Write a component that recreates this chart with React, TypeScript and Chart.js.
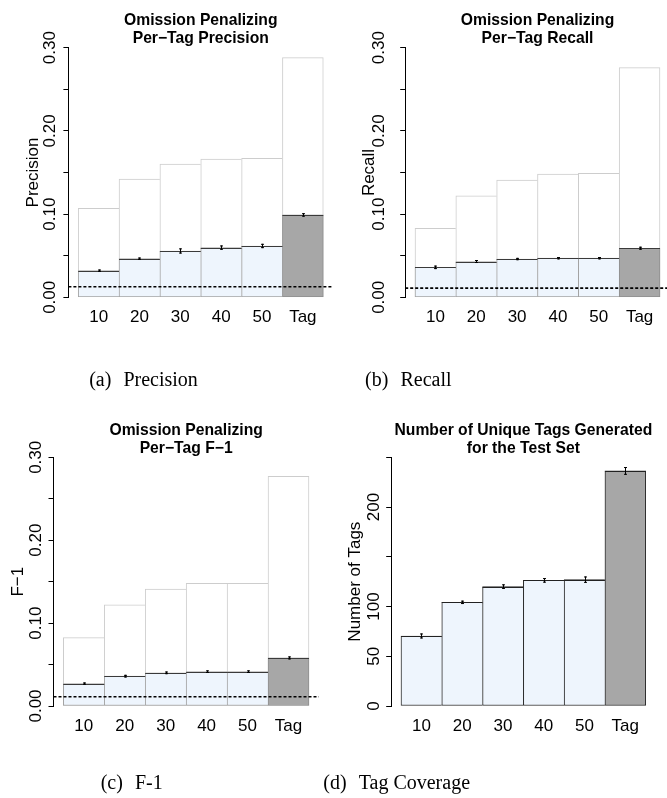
import React, { useEffect, useRef } from 'react';
import { Chart, registerables } from 'chart.js';

Chart.register(...registerables);

// Bar categories (number of generated tags, plus the "Tag" reference method)
const categories = ['10', '20', '30', '40', '50', 'Tag'];
const barCenters = [0.5, 1.5, 2.5, 3.5, 4.5, 5.5];

// Per-tag precision: upper (unpenalized) bars, penalized means, error half-widths
const precisionUpper = [0.107, 0.142, 0.16, 0.166, 0.167, 0.288];
const precisionMean = [0.032, 0.0464, 0.0557, 0.0597, 0.0617, 0.099];
const precisionErr = [0.0008, 0.0008, 0.0025, 0.002, 0.002, 0.0015];
const precisionBaseline = 0.0127;

// Per-tag recall
const recallUpper = [0.083, 0.122, 0.141, 0.148, 0.149, 0.276];
const recallMean = [0.036, 0.043, 0.046, 0.047, 0.047, 0.059];
const recallErr = [0.0015, 0.0012, 0.0008, 0.0008, 0.0008, 0.0012];
const recallBaseline = 0.011;

// Per-tag F-1
const f1Upper = [0.0824, 0.122, 0.141, 0.148, 0.148, 0.277];
const f1Mean = [0.027, 0.036, 0.04, 0.0414, 0.0414, 0.058];
const f1Err = [0.0008, 0.001, 0.001, 0.001, 0.001, 0.0012];
const f1Baseline = 0.0112;

// Number of unique tags generated for the test set
const coverageMean = [70.4, 104.2, 120, 126.3, 127, 236.3];
const coverageErr = [2, 1.2, 1.8, 1.8, 2.7, 3.4];

// Y axis ticks and their labels
const scoreTicks = [0, 0.05, 0.1, 0.15, 0.2, 0.25, 0.3];
const scoreTickLabels = ['0.00', '', '0.10', '', '0.20', '', '0.30'];
const countTicks = [0, 50, 100, 150, 200, 250];
const countTickLabels = ['0', '50', '100', '', '200', ''];

// Sub-figure captions
const captionLabels = ['(a)', '(b)', '(c)', '(d)'];
const captionTexts = ['Precision', 'Recall', 'F-1', 'Tag Coverage'];

const SANS = "'Liberation Sans', Arial, Helvetica, sans-serif";
const SERIF = "'Liberation Serif', 'Times New Roman', serif";
const BLUE = '#eef5fd';
const GRAY = '#a7a7a7';

type Panel = {
  key: string;
  title: string[];
  yLabel: string;
  upper?: number[];
  mean: number[];
  err: number[];
  baseline?: number;
  yMax: number;
  ticks: number[];
  tickLabels: string[];
  left: number;
  top: number;
  pad: { left: number; right: number; top: number; bottom: number };
  yTitlePad: number;
  yTickPad: number;
  dark: boolean;
};

const panels: Panel[] = [
  {
    key: 'precision',
    title: ['Omission Penalizing', 'Per\u2212Tag Precision'],
    yLabel: 'Precision',
    upper: precisionUpper,
    mean: precisionMean,
    err: precisionErr,
    baseline: precisionBaseline,
    yMax: 0.3,
    ticks: scoreTicks,
    tickLabels: scoreTickLabels,
    left: 0,
    top: 0,
    pad: { left: 18.4, right: 6.9, top: 11.7, bottom: 72.7 },
    yTitlePad: 6.9,
    yTickPad: -3.9,
    dark: false,
  },
  {
    key: 'recall',
    title: ['Omission Penalizing', 'Per\u2212Tag Recall'],
    yLabel: 'Recall',
    upper: recallUpper,
    mean: recallMean,
    err: recallErr,
    baseline: recallBaseline,
    yMax: 0.3,
    ticks: scoreTicks,
    tickLabels: scoreTickLabels,
    left: 334,
    top: 0,
    pad: { left: 21.2, right: 4.2, top: 11.7, bottom: 72.7 },
    yTitlePad: 5.5,
    yTickPad: 4.5,
    dark: false,
  },
  {
    key: 'f1',
    title: ['Omission Penalizing', 'Per\u2212Tag F\u22121'],
    yLabel: 'F\u22121',
    upper: f1Upper,
    mean: f1Mean,
    err: f1Err,
    baseline: f1Baseline,
    yMax: 0.3,
    ticks: scoreTicks,
    tickLabels: scoreTickLabels,
    left: 0,
    top: 400,
    pad: { left: 3.5, right: 21.2, top: 21.3, bottom: 64 },
    yTitlePad: 6.3,
    yTickPad: -4.4,
    dark: false,
  },
  {
    key: 'coverage',
    title: ['Number of Unique Tags Generated', 'for the Test Set'],
    yLabel: 'Number of Tags',
    mean: coverageMean,
    err: coverageErr,
    yMax: 250,
    ticks: countTicks,
    tickLabels: countTickLabels,
    left: 334,
    top: 400,
    pad: { left: 7.2, right: 18.5, top: 21.3, bottom: 64 },
    yTitlePad: 5.2,
    yTickPad: -2.7,
    dark: true,
  },
];

const captionPos = [
  { x: 143.5, y: 369.3 },
  { x: 408.3, y: 369.3 },
  { x: 131.7, y: 771.7 },
  { x: 396.7, y: 771.7 },
];

// Draws the darker top edge of each mean bar, the error bars and the dashed baseline
function makeOverlay(p: Panel) {
  return {
    id: 'panelOverlay',
    afterDatasetsDraw(chart: any) {
      const { ctx, chartArea } = chart;
      const yScale = chart.scales.y;
      const meta = chart.getDatasetMeta(0);
      ctx.save();
      meta.data.forEach((el: any, i: number) => {
        const half = el.width / 2;
        const yTop = Math.round(yScale.getPixelForValue(p.mean[i])) + 0.5;
        ctx.strokeStyle = p.dark ? '#222' : '#3a3a3a';
        ctx.lineWidth = 1;
        ctx.beginPath();
        ctx.moveTo(el.x - half, yTop);
        ctx.lineTo(el.x + half, yTop);
        ctx.stroke();

        const yHi = yScale.getPixelForValue(p.mean[i] + p.err[i]);
        const yLo = yScale.getPixelForValue(p.mean[i] - p.err[i]);
        const xc = Math.round(el.x) + 0.5;
        ctx.strokeStyle = '#000';
        ctx.beginPath();
        ctx.moveTo(xc, yHi - 0.5);
        ctx.lineTo(xc, yLo + 0.5);
        ctx.moveTo(xc - 1.5, yHi);
        ctx.lineTo(xc + 1.5, yHi);
        ctx.moveTo(xc - 1.5, yLo);
        ctx.lineTo(xc + 1.5, yLo);
        ctx.stroke();
      });
      if (p.baseline !== undefined) {
        const yb = yScale.getPixelForValue(p.baseline);
        ctx.setLineDash([3, 2]);
        ctx.lineWidth = 1.6;
        ctx.strokeStyle = '#000';
        ctx.beginPath();
        ctx.moveTo(chartArea.left, yb);
        ctx.lineTo(chartArea.right, yb);
        ctx.stroke();
      }
      ctx.restore();
    },
  };
}

function buildConfig(p: Panel): any {
  const sideBorder = (c: any) => ({
    top: 1,
    left: 1,
    bottom: 1,
    right: c.dataIndex === categories.length - 1 ? 1 : 0,
  });
  const datasets: any[] = [
    {
      label: 'mean',
      data: barCenters.map((x, i) => ({ x, y: p.mean[i] })),
      backgroundColor: p.mean.map((_, i) => (i === categories.length - 1 ? GRAY : BLUE)),
      borderColor: p.mean.map((_, i) =>
        p.dark ? '#2a2a2a' : i === categories.length - 1 ? '#8e8e8e' : '#a3a3a3'
      ),
      borderWidth: sideBorder,
      borderSkipped: false,
      grouped: false,
      order: 1,
      barPercentage: 1,
      categoryPercentage: 1,
    },
  ];
  if (p.upper) {
    datasets.push({
      label: 'upper',
      data: barCenters.map((x, i) => ({ x, y: p.upper![i] })),
      backgroundColor: '#ffffff',
      borderColor: '#cdcdcd',
      borderWidth: sideBorder,
      borderSkipped: false,
      grouped: false,
      order: 2,
      barPercentage: 1,
      categoryPercentage: 1,
    });
  }
  return {
    type: 'bar',
    data: { datasets },
    options: {
      animation: false,
      responsive: false,
      events: [],
      layout: { padding: p.pad },
      plugins: {
        legend: { display: false },
        tooltip: { enabled: false },
        title: {
          display: true,
          text: p.title,
          fullSize: false,
          color: '#000',
          padding: 0,
          font: { family: SANS, size: 15.7, weight: 'bold', lineHeight: 18 / 15.7 },
        },
      },
      scales: {
        x: {
          type: 'linear',
          offset: false,
          min: -0.24,
          max: 6.24,
          afterBuildTicks: (s: any) => {
            s.ticks = barCenters.map((v) => ({ value: v }));
          },
          afterFit: (s: any) => {
            s.height = 30;
          },
          ticks: {
            autoSkip: false,
            maxRotation: 0,
            padding: 10,
            color: '#000',
            font: { family: SANS, size: 17 },
            callback: (_v: any, i: number) => categories[i],
          },
          grid: { display: false, drawTicks: false, offset: false },
          border: { display: false },
        },
        y: {
          type: 'linear',
          min: 0,
          max: p.yMax,
          afterBuildTicks: (s: any) => {
            s.ticks = p.ticks.map((v) => ({ value: v }));
          },
          afterFit: (s: any) => {
            s.width = 50;
          },
          ticks: {
            autoSkip: false,
            minRotation: 90,
            maxRotation: 90,
            crossAlign: 'center',
            padding: p.yTickPad,
            color: '#000',
            font: { family: SANS, size: 17 },
            callback: (_v: any, i: number) => p.tickLabels[i],
          },
          grid: {
            drawOnChartArea: false,
            drawTicks: true,
            tickLength: 5,
            color: '#000',
            lineWidth: 1,
          },
          border: { display: true, color: '#000', width: 1 },
          title: {
            display: true,
            text: p.yLabel,
            color: '#000',
            padding: { top: p.yTitlePad, bottom: 0 },
            font: { family: SANS, size: 17, lineHeight: 1 },
          },
        },
      },
    },
    plugins: [makeOverlay(p)],
  };
}

function BarPanel({ panel }: { panel: Panel }) {
  const ref = useRef<HTMLCanvasElement>(null);
  useEffect(() => {
    if (!ref.current) return;
    const chart = new Chart(ref.current, buildConfig(panel));
    return () => chart.destroy();
  }, [panel]);
  return (
    <canvas
      ref={ref}
      width={340}
      height={400}
      style={{ position: 'absolute', left: panel.left, top: panel.top, width: 340, height: 400 }}
    />
  );
}

export default function App() {
  return (
    <div
      style={{
        position: 'absolute',
        left: 0,
        top: 0,
        width: 667,
        height: 798,
        overflow: 'hidden',
        background: '#fff',
      }}
    >
      {panels.map((p) => (
        <BarPanel key={p.key} panel={p} />
      ))}
      {captionLabels.map((label, i) => (
        <div
          key={label}
          style={{
            position: 'absolute',
            left: captionPos[i].x,
            top: captionPos[i].y,
            transform: 'translateX(-50%)',
            whiteSpace: 'nowrap',
            fontFamily: SERIF,
            fontSize: 20,
            lineHeight: '20px',
            color: '#000',
          }}
        >
          <span>{label}</span>
          <span style={{ marginLeft: 12 }}>{captionTexts[i]}</span>
        </div>
      ))}
    </div>
  );
}
